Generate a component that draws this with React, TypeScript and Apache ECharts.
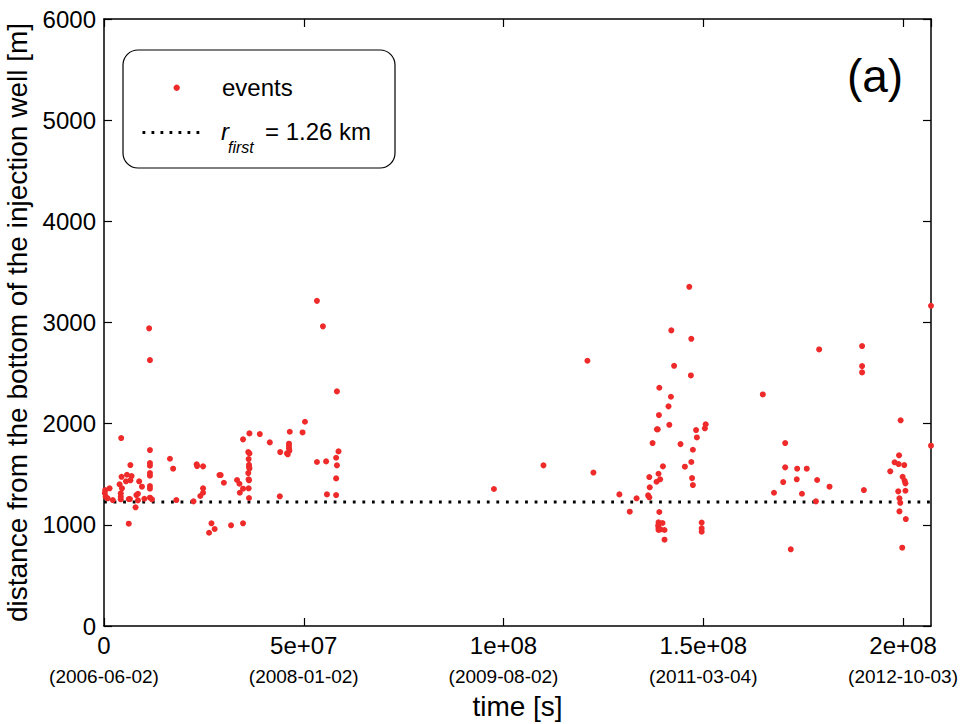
import React, { useEffect, useRef } from "react";
import * as echarts from "echarts";

// time [s], distance [m]
const eventsFirstYear: [number, number][] = [
  [1.13e7, 2942], [1.15e7, 2628], [4.3e6, 1858], [1.15e7, 1739], [1.15e7, 1611], [1.15e7, 1584],
  [1.15e7, 1512], [1.15e7, 1485], [1.15e7, 1383], [1.15e7, 1357], [1.15e7, 1268], [1.2e7, 1252],
  [6.6e6, 1591], [4.4e6, 1475], [5.75e6, 1495], [6.9e6, 1482], [5.5e6, 1430], [6.6e6, 1440],
  [3.9e6, 1400], [4.5e6, 1361], [8.8e6, 1430], [9.5e6, 1377], [1.4e6, 1361], [3e5, 1344],
  [2e5, 1314], [4e5, 1278], [4.2e6, 1311], [4.2e6, 1278], [4.2e6, 1252], [8.1e6, 1294],
  [8.5e6, 1307], [9e5, 1262], [2.2e6, 1245], [6.2e6, 1255], [6.5e6, 1255], [8.5e6, 1242],
  [1.01e7, 1258], [7.9e6, 1173], [6.2e6, 1011],
];

const eventsSecondPeriod: [number, number][] = [
  [1.65e7, 1653], [1.73e7, 1555], [1.81e7, 1245], [2.32e7, 1598], [2.33e7, 1581], [2.48e7, 1578],
  [2.48e7, 1361], [2.48e7, 1317], [2.41e7, 1285], [2.24e7, 1232], [2.69e7, 1015], [2.63e7, 922],
  [2.77e7, 959], [2.89e7, 1492], [2.92e7, 1492], [3.0e7, 1416], [3.18e7, 995], [3.33e7, 1443],
  [3.39e7, 1406], [3.4e7, 1317], [3.48e7, 1357], [3.48e7, 1015], [3.48e7, 1845], [3.64e7, 1904],
  [3.61e7, 1719], [3.64e7, 1706], [3.62e7, 1650], [3.63e7, 1594], [3.63e7, 1574], [3.64e7, 1558],
  [3.61e7, 1512], [3.62e7, 1450], [3.63e7, 1440], [3.62e7, 1361], [3.63e7, 1265], [3.9e7, 1897],
  [4.15e7, 1815], [4.41e7, 1719], [4.4e7, 1282], [4.65e7, 1920], [4.58e7, 1706], [4.6e7, 1697],
  [4.63e7, 1802], [4.63e7, 1779], [4.63e7, 1756], [4.64e7, 1733], [4.97e7, 1913], [5.03e7, 2019],
  [5.33e7, 1621], [5.56e7, 1627], [5.58e7, 1301], [5.81e7, 1663], [5.87e7, 1726], [5.83e7, 1588],
  [5.81e7, 1459], [5.81e7, 1294], [5.33e7, 3214], [5.48e7, 2962], [5.83e7, 2319],
];

const eventsMiddle: [number, number][] = [
  [9.76e7, 1354], [1.1e8, 1588], [1.21e8, 2622], [1.225e8, 1517], [1.29e8, 1301], [1.316e8, 1130],
  [1.333e8, 1262],
];

const eventsThirdPeriod: [number, number][] = [
  [1.465e8, 3353], [1.42e8, 2922], [1.47e8, 2839], [1.427e8, 2572], [1.469e8, 2477], [1.39e8, 2355],
  [1.419e8, 2266], [1.413e8, 2171], [1.389e8, 2085], [1.415e8, 1989], [1.384e8, 1944], [1.386e8, 1944],
  [1.506e8, 1994], [1.504e8, 1954], [1.482e8, 1937], [1.484e8, 1864], [1.373e8, 1808], [1.443e8, 1798],
  [1.474e8, 1742], [1.47e8, 1621], [1.399e8, 1578], [1.454e8, 1575], [1.388e8, 1505], [1.365e8, 1472],
  [1.392e8, 1450], [1.383e8, 1426], [1.472e8, 1462], [1.474e8, 1393], [1.366e8, 1371], [1.362e8, 1291],
  [1.365e8, 1272], [1.39e8, 1127], [1.388e8, 1025], [1.398e8, 1018], [1.387e8, 992], [1.388e8, 965],
  [1.393e8, 955], [1.403e8, 949], [1.388e8, 949], [1.403e8, 853], [1.496e8, 1022], [1.496e8, 965],
  [1.496e8, 932],
];

const eventsLastPeriod: [number, number][] = [
  [2.07e8, 3165], [2.07e8, 1782], [1.649e8, 2289], [1.79e8, 2734], [1.8975e8, 2767], [1.8975e8, 2569],
  [1.8975e8, 2507], [1.705e8, 1808], [1.705e8, 1568], [1.735e8, 1555], [1.759e8, 1555], [1.7e8, 1423],
  [1.734e8, 1450], [1.785e8, 1443], [1.816e8, 1377], [1.677e8, 1317], [1.747e8, 1307], [1.782e8, 1232],
  [1.902e8, 1344], [1.719e8, 758], [1.994e8, 2033], [1.99e8, 1687], [1.979e8, 1618], [1.989e8, 1601],
  [2.003e8, 1591], [1.968e8, 1529], [1.999e8, 1475], [2.004e8, 1436], [2.006e8, 1410], [1.988e8, 1331],
  [2.006e8, 1337], [1.991e8, 1262], [1.993e8, 1218], [1.991e8, 1133], [2.007e8, 1057], [1.998e8, 774],
];

const rFirstLevel = 1225;
const xMin = 0;
const xMax = 2.07e8;
const xTickValues = [0, 5e7, 1e8, 1.5e8, 2e8];
const xTickLabels = ["0", "5e+07", "1e+08", "1.5e+08", "2e+08"];
const xDateLabels = ["(2006-06-02)", "(2008-01-02)", "(2009-08-02)", "(2011-03-04)", "(2012-10-03)"];

const FONT = "'Liberation Sans', Arial, Helvetica, sans-serif";
const RED = "#ee2a2a";

export default function App() {
  const ref = useRef<HTMLDivElement>(null);
  useEffect(() => {
    if (!ref.current) return;
    const chart = echarts.init(ref.current, undefined, { renderer: "svg" });
    const allEvents = [
      ...eventsFirstYear,
      ...eventsSecondPeriod,
      ...eventsMiddle,
      ...eventsThirdPeriod,
      ...eventsLastPeriod,
    ];
    const frameLine = () => ({ show: true, onZero: false, lineStyle: { color: "#000", width: 1.5 } });
    const innerTick = () => ({ show: true, inside: true, length: 8, lineStyle: { color: "#000", width: 1.2 } });
    chart.setOption({
      animation: false,
      backgroundColor: "#fff",
      textStyle: { fontFamily: FONT },
      grid: { left: 104, right: 29, top: 19, bottom: 98, containLabel: false, outerBoundsMode: "none" },
      xAxis: [
        {
          type: "value",
          min: xMin,
          max: xMax,
          interval: 5e7,
          position: "bottom",
          axisLine: frameLine(),
          axisTick: innerTick(),
          splitLine: { show: false },
          axisLabel: {
            showMaxLabel: false,
            margin: 8,
            formatter: (v: number) => {
              const i = xTickValues.findIndex((t) => Math.abs(t - v) < 1);
              if (i < 0) return "";
              return `{v|${xTickLabels[i]}}\n{d|${xDateLabels[i]}}`;
            },
            rich: {
              v: { fontSize: 24, lineHeight: 22, color: "#000", fontFamily: FONT },
              d: { fontSize: 19, lineHeight: 40, color: "#000", fontFamily: FONT },
            },
          },
          name: "time [s]",
          nameLocation: "middle",
          nameGap: 66,
          nameTextStyle: { fontSize: 28, color: "#000", fontFamily: FONT },
        },
        {
          type: "value",
          min: xMin,
          max: xMax,
          interval: 5e7,
          position: "top",
          axisLine: frameLine(),
          axisTick: innerTick(),
          axisLabel: { show: false },
          splitLine: { show: false },
        },
      ],
      yAxis: [
        {
          type: "value",
          min: 0,
          max: 6000,
          interval: 1000,
          position: "left",
          axisLine: frameLine(),
          axisTick: innerTick(),
          splitLine: { show: false },
          axisLabel: {
            fontSize: 24,
            color: "#000",
            margin: 8,
            fontFamily: FONT,
            formatter: (v: number) => String(v),
          },
          name: "distance from the bottom of the injection well [m]",
          nameLocation: "middle",
          nameGap: 72,
          nameTextStyle: { fontSize: 28, color: "#000", fontFamily: FONT },
        },
        {
          type: "value",
          min: 0,
          max: 6000,
          interval: 1000,
          position: "right",
          axisLine: frameLine(),
          axisTick: innerTick(),
          axisLabel: { show: false },
          splitLine: { show: false },
        },
      ],
      series: [
        {
          name: "r_first",
          type: "line",
          data: [[xMin, rFirstLevel], [xMax, rFirstLevel]],
          symbol: "none",
          lineStyle: { color: "#000", width: 3, type: [2.8, 6.77], cap: "butt" },
          z: 2,
        },
        {
          name: "events",
          type: "scatter",
          data: allEvents,
          symbol: "circle",
          symbolSize: 6,
          clip: false,
          itemStyle: { color: RED, opacity: 1 },
          z: 3,
        },
      ],
      graphic: [
        {
          type: "rect",
          shape: { x: 123, y: 50, width: 272, height: 118, r: 15 },
          style: { fill: "#fff", stroke: "#000", lineWidth: 1.2 },
          z: 10,
        },
        {
          type: "circle",
          shape: { cx: 176.7, cy: 87.7, r: 3.2 },
          style: { fill: RED },
          z: 11,
        },
        {
          type: "text",
          style: { text: "events", x: 222, y: 87, font: `24px ${FONT}`, fill: "#000", verticalAlign: "middle" },
          z: 11,
        },
        {
          type: "line",
          shape: { x1: 142.5, y1: 132.5, x2: 200, y2: 132.5 },
          style: { stroke: "#000", lineWidth: 3, lineDash: [2.8, 6.2] },
          z: 11,
        },
        {
          type: "text",
          style: { text: "r", x: 221, y: 131, font: `italic 24px ${FONT}`, fill: "#000", verticalAlign: "middle" },
          z: 11,
        },
        {
          type: "text",
          style: { text: "first", x: 228, y: 147, font: `italic 16px ${FONT}`, fill: "#000", verticalAlign: "middle" },
          z: 11,
        },
        {
          type: "text",
          style: { text: "= 1.26 km", x: 265, y: 131, font: `24px ${FONT}`, fill: "#000", verticalAlign: "middle" },
          z: 11,
        },
        {
          type: "text",
          style: { text: "(a)", x: 875, y: 76, font: `46px ${FONT}`, fill: "#000", align: "center", verticalAlign: "middle" },
          z: 11,
        },
      ],
    });
    return () => chart.dispose();
  }, []);
  return (
    <div
      ref={ref}
      style={{ position: "fixed", left: 0, top: 0, width: 960, height: 724, background: "#fff" }}
    />
  );
}
